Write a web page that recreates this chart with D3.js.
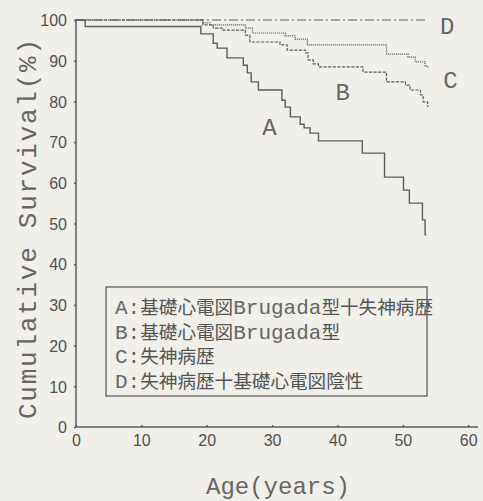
<!DOCTYPE html>
<html>
<head>
<meta charset="utf-8">
<script src="https://cdn.jsdelivr.net/npm/d3@7"></script>
<style>
  body { margin: 0; background: #f0efe9; }
  svg { display: block; }
  .tick_lbl { font-family: "Liberation Sans", Arial, sans-serif; font-size: 16px; fill: #505050; }
  .mono { font-family: "Liberation Mono", "DejaVu Sans Mono", monospace; fill: #666666; }
  .cjk { font-family: "Noto Sans CJK JP", sans-serif; font-weight: 400; fill: #555555; }
</style>
</head>
<body>
<svg id="km" width="483" height="501"></svg>
<script>

// Kaplan-Meier steps: age (years) and survival (%)
let ages_A = [0, 1.4, 19.1, 21.0, 21.6, 23.1, 25.6, 26.2, 26.8, 27.9, 31.5, 32.0, 32.8, 34.3, 34.9, 35.8, 37.1, 43.8, 47.2, 50.1, 51.0, 53.0, 53.4, 53.6]
let surv_A = [100, 98.4, 96.6, 94.3, 93.1, 90.7, 88.9, 87.0, 84.8, 82.8, 80.3, 78.6, 76.2, 74.4, 73.5, 72.2, 70.3, 67.3, 61.4, 58.2, 55.0, 50.9, 47.2, 47.2]

let ages_B = [0, 19.4, 21.0, 22.5, 25.9, 26.6, 31.2, 32.3, 35.1, 35.5, 36.3, 37.1, 43.9, 47.5, 50.4, 51.1, 52.7, 53.1, 53.8]
let surv_B = [100, 98.8, 98.0, 97.5, 96.3, 94.6, 93.9, 92.6, 91.9, 90.2, 89.2, 88.5, 87.2, 84.8, 84.0, 82.8, 81.6, 79.9, 78.6]

let ages_C = [0, 19.4, 20.5, 25.9, 27.0, 32.0, 33.5, 35.4, 47.5, 50.8, 51.9, 53.4, 53.8]
let surv_C = [100, 99.3, 98.8, 98.0, 96.8, 96.1, 95.3, 93.9, 91.6, 90.9, 89.7, 88.7, 88.2]

let ages_D = [0, 53.8]
let surv_D = [100, 100]

let x_ticks = [0, 10, 20, 30, 40, 50, 60]
let y_ticks = [0, 10, 20, 30, 40, 50, 60, 70, 80, 90, 100]

let curve_names = ["A", "B", "C", "D"]
// where the letters sit, in age / survival units
let curve_label_age = [29.6, 40.8, 57.3, 56.8]
let curve_label_surv = [73.3, 81.9, 85.0, 98.2]

// legend rows: [latin prefix, cjk, latin, cjk]
let legend_rows = [
    ["A:", "基礎心電図", "Brugada", "型十失神病歴"],
    ["B:", "基礎心電図", "Brugada", "型"],
    ["C:", "失神病歴", "", ""],
    ["D:", "失神病歴十基礎心電図陰性", "", ""]
]

let line_style = { A: "none", B: "3.2,1.4", C: "1.1,0.9", D: "9,3,2,3" }
let ink = "#5e5e5e"

function KMChart(dest_svg) {

    let svg = d3.select('#' + dest_svg)

    let x = d3.scaleLinear().domain([0, 61.5]).range([76, 478])
    let y = d3.scaleLinear().domain([0, 100]).range([427, 20])

    // axes
    let yAxis = svg.append('g')
        .attr('transform', 'translate(76,0)')
        .call(d3.axisLeft(y).tickValues(y_ticks).tickSize(2).tickPadding(7))
    let xAxis = svg.append('g')
        .attr('transform', 'translate(0,427)')
        .call(d3.axisBottom(x).tickValues(x_ticks).tickSize(-2).tickPadding(12))

    for (let ax of [yAxis, xAxis]) {
        ax.select('.domain').attr('stroke', ink).attr('stroke-width', 1.5)
        ax.selectAll('.tick line').attr('stroke', ink).attr('stroke-width', 1.5)
        ax.selectAll('.tick text').attr('class', 'tick_lbl').attr('font-family', null).attr('font-size', null)
    }
    // d3 draws the domain with end ticks; keep only the plain line
    yAxis.select('.domain').attr('d', 'M0,' + y(0) + 'V' + (y(100) - 1))
    xAxis.select('.domain').attr('d', 'M' + x(0) + ',0H' + x(61.5))
    xAxis.selectAll('.tick text').attr('dy', '0.45em')
    yAxis.selectAll('.tick text').attr('dy', '0.36em')

    // axis titles
    svg.append('text')
        .attr('class', 'mono')
        .attr('transform', 'translate(36,229) rotate(-90)')
        .attr('text-anchor', 'middle')
        .attr('font-size', 26)
        .attr('textLength', 380)
        .attr('lengthAdjust', 'spacing')
        .text('Cumulative Survival(%)')

    svg.append('text')
        .attr('class', 'mono')
        .attr('x', 278).attr('y', 494)
        .attr('text-anchor', 'middle')
        .attr('font-size', 24)
        .text('Age(years)')

    // curves
    let lineFunc = d3.line()
        .curve(d3.curveStepAfter)
        .x(d => x(d[0]))
        .y(d => y(d[1]))

    let series = {
        D: d3.zip(ages_D, surv_D),
        C: d3.zip(ages_C, surv_C),
        B: d3.zip(ages_B, surv_B),
        A: d3.zip(ages_A, surv_A)
    }

    for (let name of ["D", "C", "B", "A"]) {
        svg.append('path')
            .attr('fill', 'none')
            .attr('stroke', ink)
            .attr('stroke-width', name == "A" ? 1.4 : 1.2)
            .attr('stroke-dasharray', line_style[name])
            .attr('d', lineFunc(series[name]))
    }

    // curve letters
    curve_names.forEach((n, i) => {
        svg.append('text')
            .attr('class', 'mono')
            .attr('x', x(curve_label_age[i]))
            .attr('y', y(curve_label_surv[i]))
            .attr('text-anchor', 'middle')
            .attr('dominant-baseline', 'central')
            .attr('font-size', 24)
            .text(n)
    })

    // legend
    svg.append('rect')
        .attr('x', 106).attr('y', 287)
        .attr('width', 321).attr('height', 109)
        .attr('fill', 'none')
        .attr('stroke', ink)
        .attr('stroke-width', 1.3)

    legend_rows.forEach((row, i) => {
        let t = svg.append('text')
            .attr('x', 115)
            .attr('y', 314 + i * 24.7)
        row.forEach((part, j) => {
            if (!part) return
            t.append('tspan')
                .attr('class', j % 2 == 0 ? 'mono' : 'mono cjk')
                .attr('font-size', j % 2 == 0 ? 21 : 18.6)
                .text(part)
        })
    })
}

KMChart('km')

</script>
</body>
</html>
